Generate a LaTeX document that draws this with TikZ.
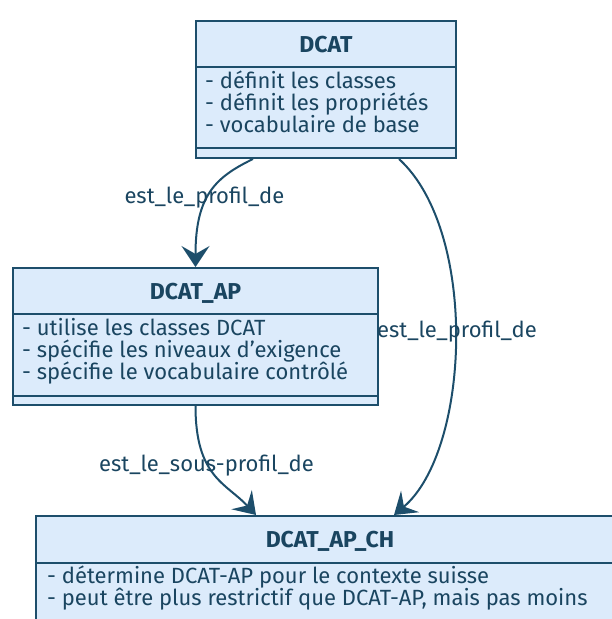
\documentclass[tikz,border=0pt]{standalone}
\usepackage{fontspec}
\setmainfont{Fira Sans}
\usetikzlibrary{arrows.meta,positioning,calc}
\definecolor{cfill}{HTML}{DCEBFB}
\definecolor{cline}{HTML}{1D4E6B}
\definecolor{ctext}{HTML}{1A4560}
\tikzset{
  classbox/.style={draw=cline, line width=2pt, fill=cfill, anchor=north west, inner sep=0pt},
  ttl/.style={font=\fontsize{23}{26}\selectfont\bfseries, text=ctext, anchor=base, inner sep=0pt},
  attr/.style={font=\fontsize{22}{22}\selectfont, text=ctext, anchor=base west, inner sep=0pt},
  lbl/.style={font=\fontsize{22}{24}\selectfont, text=ctext, inner sep=1pt},
  sep/.style={draw=cline, line width=2pt},
  rel/.style={draw=cline, line width=2pt, -{Stealth[length=21pt,width=28pt,inset=8pt]}},
}
\begin{document}
\begin{tikzpicture}[x=1pt,y=-1pt]
\useasboundingbox (0,0) rectangle (611,619);
% class boxes
\node[classbox, minimum width=260pt, minimum height=137pt] (dcat) at (195,20) {};
\node[classbox, minimum width=365pt, minimum height=137pt] (ap) at (12,267) {};
\node[classbox, minimum width=588pt, minimum height=125pt] (ch) at (35,515) {};
% compartments
\draw[sep] ([yshift=-47pt]dcat.north west) -- ([yshift=-47pt]dcat.north east);
\draw[sep] ([yshift=11pt]dcat.south west) -- ([yshift=11pt]dcat.south east);
\draw[sep] ([yshift=-47pt]ap.north west) -- ([yshift=-47pt]ap.north east);
\draw[sep] ([yshift=10pt]ap.south west) -- ([yshift=10pt]ap.south east);
\draw[sep] ([yshift=-48pt]ch.north west) -- ([yshift=-48pt]ch.north east);
% titles
\node[ttl] (dcat-t) at ([yshift=-32pt]dcat.north) {DCAT};
\node[ttl] (ap-t) at ([yshift=-32pt]ap.north) {DCAT\_AP};
\node[ttl] (ch-t) at ([yshift=-32pt]ch.north) {DCAT\_AP\_CH};
% attributes
\node[attr] (dcat-a1) at ([xshift=10pt,yshift=-68pt]dcat.north west) {- définit les classes};
\node[attr] (dcat-a2) at ([yshift=-22pt]dcat-a1.base west) {- définit les propriétés};
\node[attr] (dcat-a3) at ([yshift=-22pt]dcat-a2.base west) {- vocabulaire de base};
\node[attr] (ap-a1) at ([xshift=10pt,yshift=-68pt]ap.north west) {- utilise les classes DCAT};
\node[attr] (ap-a2) at ([yshift=-22pt]ap-a1.base west) {- spécifie les niveaux d'exigence};
\node[attr] (ap-a3) at ([yshift=-22pt]ap-a2.base west) {- spécifie le vocabulaire contrôlé};
\node[attr] (ch-a1) at ([xshift=12pt,yshift=-68pt]ch.north west) {- détermine DCAT-AP pour le contexte suisse};
\node[attr] (ch-a2) at ([yshift=-22pt]ch-a1.base west) {- peut être plus restrictif que DCAT-AP, mais pas moins};
% relations
\draw[rel] ([xshift=-73pt]dcat.south) .. controls +(-37,18) and +(0,-72) .. node[lbl, pos=0.5, xshift=-6pt, yshift=-5pt] {est\_le\_profil\_de} (ap.north);
\draw[rel] ([xshift=73pt]dcat.south) .. controls +(80,73) and +(76,-64) .. node[lbl, pos=0.5, xshift=2pt, yshift=9pt] {est\_le\_profil\_de} ([xshift=64pt]ch.north);
\draw[rel] (ap.south) .. controls +(0,71) and +(-30,-32) .. node[lbl, pos=0.5, xshift=-8pt, yshift=10pt] {est\_le\_sous-profil\_de} ([xshift=-74pt]ch.north);
\end{tikzpicture}
\end{document}
